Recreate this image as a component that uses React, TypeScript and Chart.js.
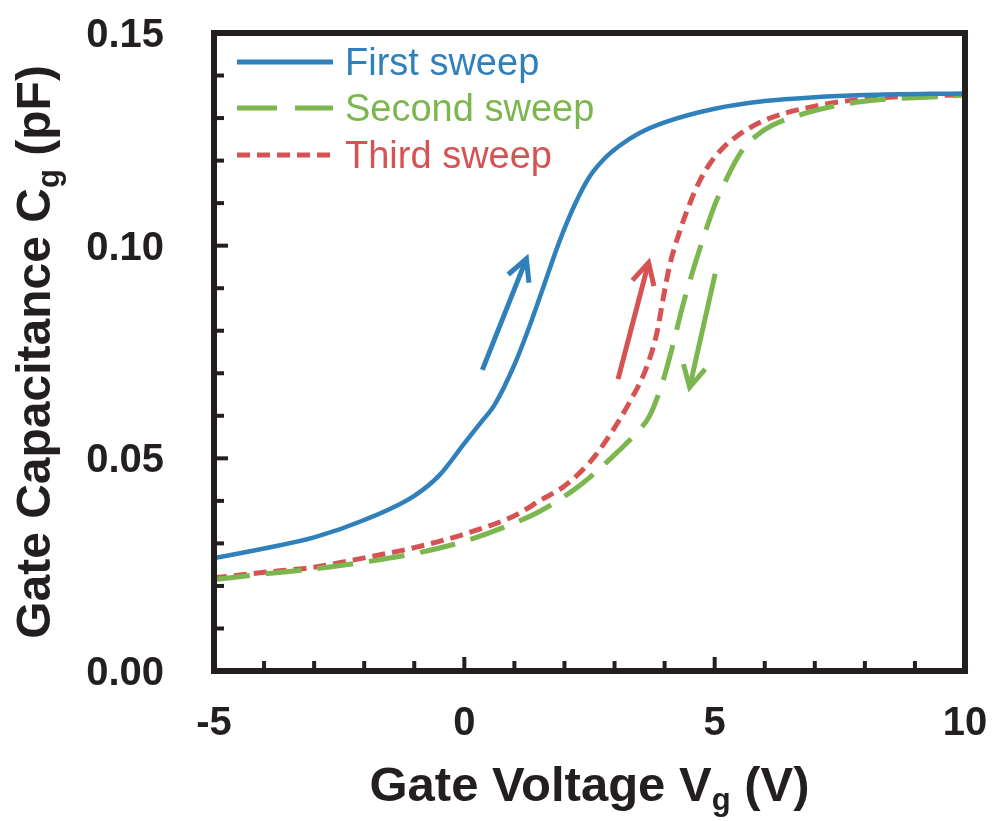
import React, { useEffect, useRef } from "react";
import { Chart, registerables } from "chart.js";

Chart.register(...registerables);

// ---- Data ----
const firstX = [-5, -4, -3, -2, -1, -0.5, 0, 0.3, 0.6, 1.0, 1.3, 1.6, 1.9, 2.2, 2.5, 2.8, 3.1, 3.5, 4.0, 5.0, 6.0, 7.0, 8.0, 10];
const firstY = [0.0265, 0.0288, 0.0314, 0.0355, 0.0412, 0.046, 0.0535, 0.058, 0.0625, 0.072, 0.081, 0.091, 0.101, 0.1095, 0.1162, 0.1205, 0.1235, 0.1265, 0.129, 0.1322, 0.134, 0.1349, 0.1354, 0.1358];

const secondX = [-5, -4, -3, -2, -1, 0, 1, 1.5, 2.2, 2.6, 3.05, 3.4, 3.7, 3.96, 4.16, 4.36, 4.56, 4.75, 5.0, 5.2, 5.4, 5.6, 5.85, 6.15, 6.8, 7.7, 10];
const secondY = [0.0215, 0.0228, 0.024, 0.0256, 0.0276, 0.0305, 0.0348, 0.0375, 0.0427, 0.0465, 0.0514, 0.0555, 0.06, 0.0679, 0.0764, 0.0858, 0.0939, 0.101, 0.1095, 0.1148, 0.1195, 0.1232, 0.126, 0.1283, 0.1311, 0.1335, 0.1354];

const thirdX = [-5, -4, -3, -2, -1, 0, 1, 1.5, 2.0, 2.5, 2.85, 3.3, 3.65, 3.85, 3.97, 4.1, 4.3, 4.5, 4.7, 4.9, 5.15, 5.45, 6.0, 7.0, 8.0, 10];
const thirdY = [0.0219, 0.0232, 0.0244, 0.0266, 0.029, 0.0322, 0.0365, 0.04, 0.0435, 0.049, 0.0545, 0.0632, 0.0717, 0.0797, 0.0875, 0.0953, 0.1033, 0.1098, 0.1152, 0.1192, 0.1228, 0.1258, 0.1295, 0.1328, 0.1345, 0.1355];

const seriesNames = ["First sweep", "Second sweep", "Third sweep"];
const seriesColors = ["#2f80bb", "#7cb64f", "#d75253"];

const xTicks = [-5, 0, 5, 10];
const xTickLabels = ["-5", "0", "5", "10"];
const yTicks = [0, 0.05, 0.1, 0.15];
const yTickLabels = ["0.00", "0.05", "0.10", "0.15"];

// arrows: [x0, y0, x1, y1] tail -> head (data units)
const arrowBlue = [0.36, 0.0708, 1.24, 0.0969];
const arrowRed = [3.07, 0.0686, 3.68, 0.096];
const arrowGreen = [5.01, 0.0934, 4.5, 0.0667];

const FONT = "'Liberation Sans', Arial, sans-serif";
const INK = "#231f20";

function drawRich(ctx: CanvasRenderingContext2D, parts: [string, boolean][], size: number, subSize: number, subShift: number) {
  let total = 0;
  const widths: number[] = [];
  for (const [t, sub] of parts) {
    ctx.font = `bold ${sub ? subSize : size}px ${FONT}`;
    const w = ctx.measureText(t).width;
    widths.push(w);
    total += w;
  }
  let x = -total / 2;
  parts.forEach(([t, sub], i) => {
    ctx.font = `bold ${sub ? subSize : size}px ${FONT}`;
    ctx.fillText(t, x, sub ? subShift : 0);
    x += widths[i];
  });
}

const decorPlugin = {
  id: "decor",
  afterDatasetsDraw(chart: any) {
    const ctx: CanvasRenderingContext2D = chart.ctx;
    const { left, right, top, bottom } = chart.chartArea;
    const xs = chart.scales.x;
    const ys = chart.scales.y;
    ctx.save();
    // arrows
    const arrows: [number[], string][] = [
      [arrowBlue, seriesColors[0]],
      [arrowRed, seriesColors[2]],
      [arrowGreen, seriesColors[1]],
    ];
    for (const [a, c] of arrows) {
      const x0 = xs.getPixelForValue(a[0]);
      const y0 = ys.getPixelForValue(a[1]);
      const x1 = xs.getPixelForValue(a[2]);
      const y1 = ys.getPixelForValue(a[3]);
      const ang = Math.atan2(y1 - y0, x1 - x0);
      ctx.strokeStyle = c;
      ctx.lineWidth = 5;
      ctx.lineCap = "butt";
      ctx.lineJoin = "miter";
      ctx.beginPath();
      ctx.moveTo(x0, y0);
      ctx.lineTo(x1, y1);
      ctx.stroke();
      const hl = 24;
      const spread = Math.PI / 6.5;
      ctx.beginPath();
      ctx.moveTo(x1 - hl * Math.cos(ang - spread), y1 - hl * Math.sin(ang - spread));
      ctx.lineTo(x1, y1);
      ctx.lineTo(x1 - hl * Math.cos(ang + spread), y1 - hl * Math.sin(ang + spread));
      ctx.stroke();
    }
    // frame
    ctx.strokeStyle = INK;
    ctx.lineWidth = 6;
    ctx.lineJoin = "miter";
    ctx.strokeRect(left, top, right - left, bottom - top);
    // ticks
    ctx.lineWidth = 4;
    ctx.lineCap = "butt";
    for (let v = -4; v <= 9; v++) {
      const px = xs.getPixelForValue(v);
      const len = v % 5 === 0 ? 14 : 10;
      ctx.beginPath();
      ctx.moveTo(px, bottom);
      ctx.lineTo(px, bottom - len);
      ctx.stroke();
    }
    for (let i = 1; i <= 14; i++) {
      const py = ys.getPixelForValue(i * 0.01);
      const len = i % 5 === 0 ? 14 : 10;
      ctx.beginPath();
      ctx.moveTo(left, py);
      ctx.lineTo(left + len, py);
      ctx.stroke();
    }
    // tick labels
    ctx.fillStyle = INK;
    ctx.font = `bold 40px ${FONT}`;
    ctx.textBaseline = "alphabetic";
    ctx.textAlign = "center";
    xTicks.forEach((v, i) => {
      ctx.fillText(xTickLabels[i], xs.getPixelForValue(v), 735);
    });
    ctx.textAlign = "right";
    yTicks.forEach((v, i) => {
      ctx.fillText(yTickLabels[i], 164, ys.getPixelForValue(v) + 14);
    });
    // legend
    const rows = [62, 108, 155];
    const dashes = [[], [40, 18], [13, 7]];
    rows.forEach((ry, i) => {
      ctx.strokeStyle = seriesColors[i];
      ctx.lineWidth = 5;
      ctx.lineCap = "butt";
      ctx.setLineDash(dashes[i]);
      ctx.beginPath();
      ctx.moveTo(237, ry);
      ctx.lineTo(333, ry);
      ctx.stroke();
      ctx.setLineDash([]);
      ctx.fillStyle = seriesColors[i];
      ctx.font = `38px ${FONT}`;
      ctx.textAlign = "left";
      ctx.textBaseline = "alphabetic";
      ctx.fillText(seriesNames[i], 345, ry + 13);
    });
    // titles
    ctx.fillStyle = INK;
    ctx.textAlign = "left";
    ctx.textBaseline = "alphabetic";
    ctx.save();
    ctx.translate((left + right) / 2, 801);
    drawRich(ctx, [["Gate Voltage V", false], ["g", true], [" (V)", false]], 49, 31, 9);
    ctx.restore();
    ctx.save();
    ctx.translate(50, (top + bottom) / 2);
    ctx.rotate(-Math.PI / 2);
    drawRich(ctx, [["Gate Capacitance C", false], ["g", true], [" (pF)", false]], 48, 31, 9);
    ctx.restore();
    ctx.restore();
  },
};

export default function App() {
  const ref = useRef<HTMLCanvasElement | null>(null);
  useEffect(() => {
    document.body.style.margin = "0";
    const canvas = ref.current!;
    const mk = (xa: number[], ya: number[]) => xa.map((x, i) => ({ x, y: ya[i] }));
    const chart = new Chart(canvas, {
      type: "line",
      data: {
        datasets: [
          { label: seriesNames[0], data: mk(firstX, firstY), borderColor: seriesColors[0], borderWidth: 4.5, pointRadius: 0, cubicInterpolationMode: "monotone", fill: false },
          { label: seriesNames[1], data: mk(secondX, secondY), borderColor: seriesColors[1], borderWidth: 5, borderDash: [36, 16], pointRadius: 0, cubicInterpolationMode: "monotone", fill: false },
          { label: seriesNames[2], data: mk(thirdX, thirdY), borderColor: seriesColors[2], borderWidth: 5, borderDash: [13, 7], pointRadius: 0, cubicInterpolationMode: "monotone", fill: false },
        ],
      },
      options: {
        responsive: false,
        animation: false,
        devicePixelRatio: 1,
        layout: { padding: { left: 0, top: 33, right: 34, bottom: 0 } },
        plugins: { legend: { display: false }, tooltip: { enabled: false } },
        scales: {
          x: {
            type: "linear",
            min: -5,
            max: 10,
            grid: { display: false },
            border: { display: false },
            afterBuildTicks: (s: any) => { s.ticks = xTicks.map((v) => ({ value: v })); },
            afterFit: (s: any) => { s.height = 150; },
            ticks: { display: false },
          },
          y: {
            type: "linear",
            min: 0,
            max: 0.15,
            grid: { display: false },
            border: { display: false },
            afterBuildTicks: (s: any) => { s.ticks = yTicks.map((v) => ({ value: v })); },
            afterFit: (s: any) => { s.width = 214; },
            ticks: { display: false },
          },
        },
      },
      plugins: [decorPlugin],
    } as any);
    return () => chart.destroy();
  }, []);
  return <canvas ref={ref} width={999} height={821} style={{ display: "block", width: 999, height: 821 }} />;
}
